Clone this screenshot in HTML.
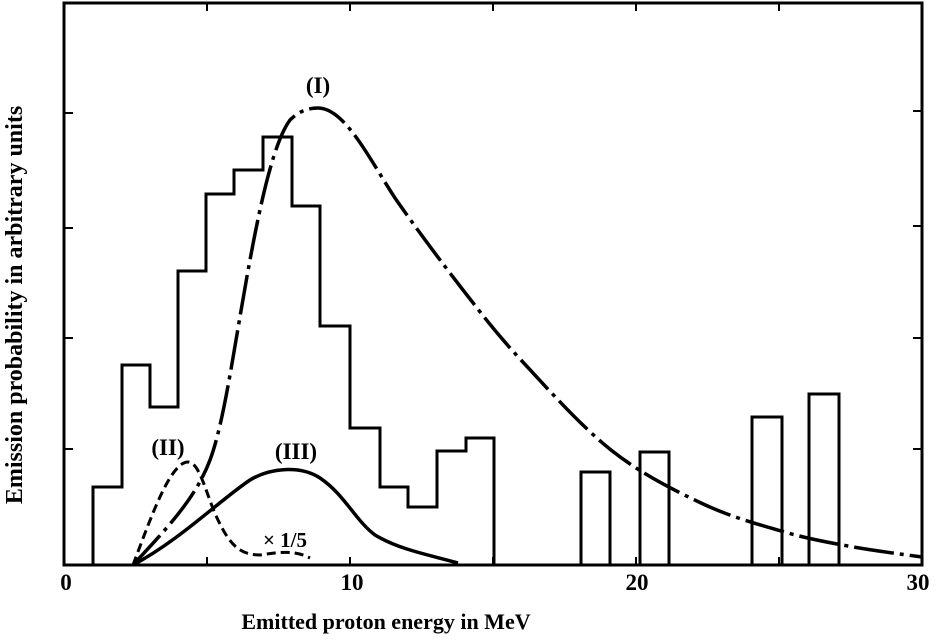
<!DOCTYPE html>
<html><head><style>
body{margin:0;background:#fff;}
svg text{font-family:"Liberation Serif",serif;font-weight:bold;fill:#000;}
</style></head><body>
<svg width="936" height="636" viewBox="0 0 936 636" xmlns="http://www.w3.org/2000/svg">
<g fill="none" stroke="#000">
<rect x="64" y="3" width="858" height="562" stroke-width="3"/>
<path d="M64 113h9M64 228h9M64 338h9M64 449h9M922 111h-9M922 226h-9M922 338h-9M922 449h-9M207 565v-8M350 565v-8M493 565v-8M636 565v-8M779 565v-8M207 3v8M350 3v8M493 3v8M636 3v8M779 3v8" stroke-width="2"/>
<path d="M93 565V487H122V365H150V407H178V271H206V194H234V170H263V137H292V206H320V326H350V428H380V487H408V507H437V451H466V438H494V565" stroke-width="3"/>
<path d="M581 565V472H610V565M640 565V452H669V565M752 565V417H782V565M809 565V394H839V565" stroke-width="3"/>
<path d="M133 565C165 530 195 500 210 460C225 420 235 340 250 260C262 195 275 140 290 120C300 110 310 108 318 108C345 108 370 160 395 198C414 225.5 442 263 463 290C484 317 496.3 333.3 521 360C545.7 386.7 581 426.2 611 450C641 473.8 672.7 489.5 701 503C729.3 516.5 756.5 523.8 781 531C805.5 538.2 824.5 541.7 848 546C871.5 550.3 900 554 922 557" stroke-width="3.5" stroke-dasharray="40 6 4 6"/>
<path d="M133 565C150 520 170 462 188 462C200 462 206 495 218 520C230 545 240 555 260 555C280 552 295 550 310 558" stroke-width="3" stroke-dasharray="9 5"/>
<path d="M133 565C180 540 220 500 250 480C270 468 300 465 320 478C345 495 355 520 375 535C400 550 430 555 458 563" stroke-width="3.5"/>
</g>
<text x="318" y="93" font-size="23" text-anchor="middle">(I)</text>
<text x="168" y="455" font-size="23" text-anchor="middle">(II)</text>
<text x="296" y="459" font-size="23" text-anchor="middle">(III)</text>
<text x="285" y="547" font-size="21" text-anchor="middle">× 1/5</text>
<text x="66" y="590" font-size="23" text-anchor="middle">0</text>
<text x="352" y="590" font-size="23" text-anchor="middle">10</text>
<text x="637" y="590" font-size="23" text-anchor="middle">20</text>
<text x="918" y="590" font-size="23" text-anchor="middle">30</text>
<text x="386" y="629" font-size="22" text-anchor="middle">Emitted proton energy in MeV</text>
<text transform="translate(22,305) rotate(-90)" font-size="24" text-anchor="middle">Emission probability in arbitrary units</text>
</svg>
</body></html>
